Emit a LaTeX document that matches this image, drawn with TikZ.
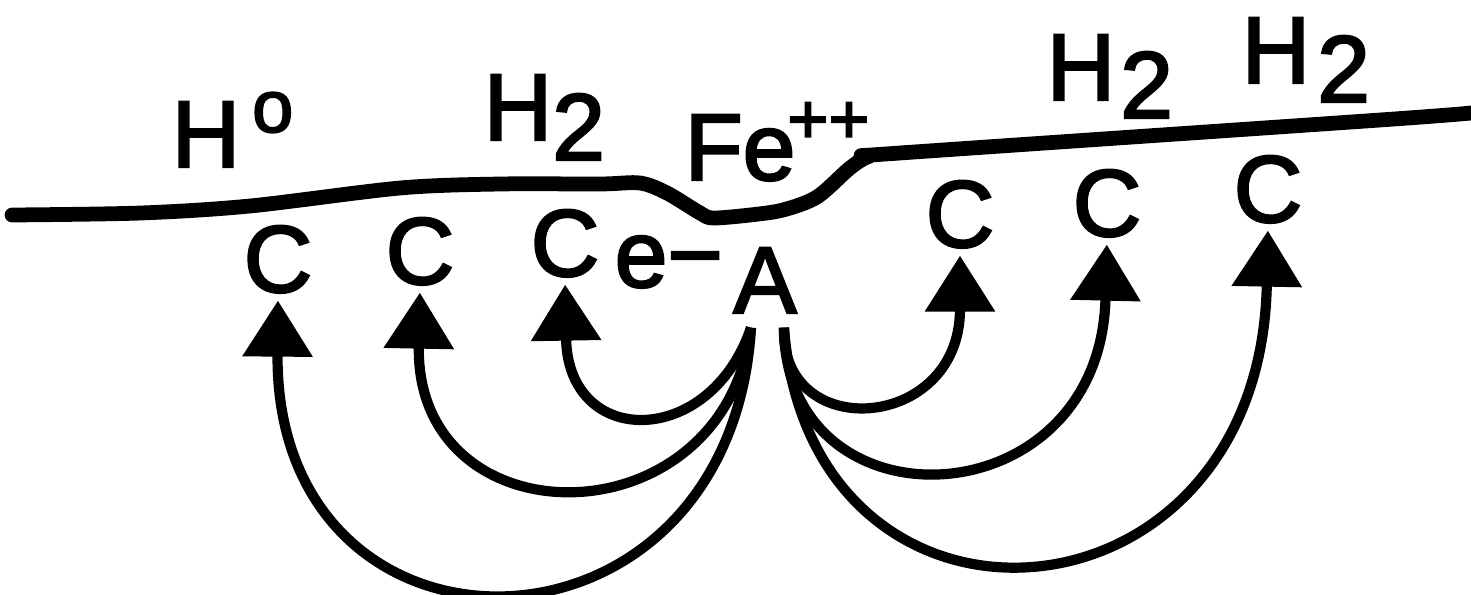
\documentclass[tikz,border=0pt]{standalone}
\usepackage{fontspec}
\setmainfont[FakeBold=2.5]{Liberation Sans}
\usetikzlibrary{arrows.meta}

\begin{document}
\begin{tikzpicture}[
  site/.style    = {inner sep=0pt, anchor=base, font=\fontsize{27}{30}\selectfont},
  species/.style = {inner sep=0pt, anchor=base west, font=\fontsize{27}{30}\selectfont},
  arrow/.style   = {-{Triangle[width=0.68cm,length=0.56cm]}, line width=2.9pt,
                    shorten >=0.07cm},
  surface/.style = {line width=4.2pt, line cap=round, line join=round},
]
\useasboundingbox (0,0) rectangle (14.71,5.94);

% metal surface with the pit
\draw[surface] plot[smooth, tension=0.5] coordinates {
  (0.12,3.79) (1.41,3.81) (2.5,3.88) (4.0,4.06) (5.0,4.10) (6.0,4.10)
  (6.4,4.11) (6.67,4.01) (7.0,3.81) (7.13,3.76) (7.5,3.79) (7.83,3.84)
  (8.17,3.97) (8.5,4.26) (8.7,4.38) (9.0,4.41) (13.8,4.74) (14.71,4.81)};

% anode and cathodes
\node[site] (A)  at (7.65,2.81) {A};
\node[site] (c1) at (2.78,3.02) {C};
\node[site] (c2) at (4.20,3.10) {C};
\node[site] (c3) at (5.65,3.18) {C};
\node[site] (c4) at (9.60,3.47) {C};
\node[site] (c5) at (11.07,3.58) {C};
\node[site] (c6) at (12.68,3.72) {C};

% species
\node[species] (hzero) at (1.71,4.27) {H\kern0.12cm\raisebox{0.35cm}{\fontsize{21}{21}\selectfont o}};
\node[species] (htwoa) at (4.83,4.54) {H\raisebox{-0.2cm}{2}};
\node[species] (fe)    at (6.84,4.14) {Fe\kern-0.08cm\raisebox{0.37cm}{\fontsize{20}{20}\selectfont ++}};
\node[species] (elec)  at (6.14,3.07) {e−};
\node[species] (htwob) at (10.46,4.94) {H\kern0.05cm\raisebox{-0.18cm}{2}};
\node[species] (htwoc) at (12.41,5.11) {H\kern0.07cm\raisebox{-0.19cm}{2}};

% current paths
\coordinate (Al) at ([xshift=-0.14cm,yshift=-0.14cm]A.south);
\coordinate (Ar) at ([xshift=0.19cm,yshift=-0.14cm]A.south);

\draw[arrow] (Al) .. controls (7.3,-0.85) and (2.75,-0.9) .. (c1.south);
\draw[arrow] (Al) .. controls (7.25,0.5) and (4.15,0.5) .. (c2.south);
\draw[arrow] (Al) .. controls (7.1,1.45) and (5.68,1.45) .. (c3.south);
\draw[arrow] (Ar) .. controls (7.8,1.5) and (9.6,1.62) .. (c4.south);
\draw[arrow] (Ar) .. controls (7.85,0.6) and (11.0,0.72) .. (c5.south);
\draw[arrow] (Ar) .. controls (8.1,-0.75) and (12.6,-0.45) .. (c6.south);

\end{tikzpicture}
\end{document}
